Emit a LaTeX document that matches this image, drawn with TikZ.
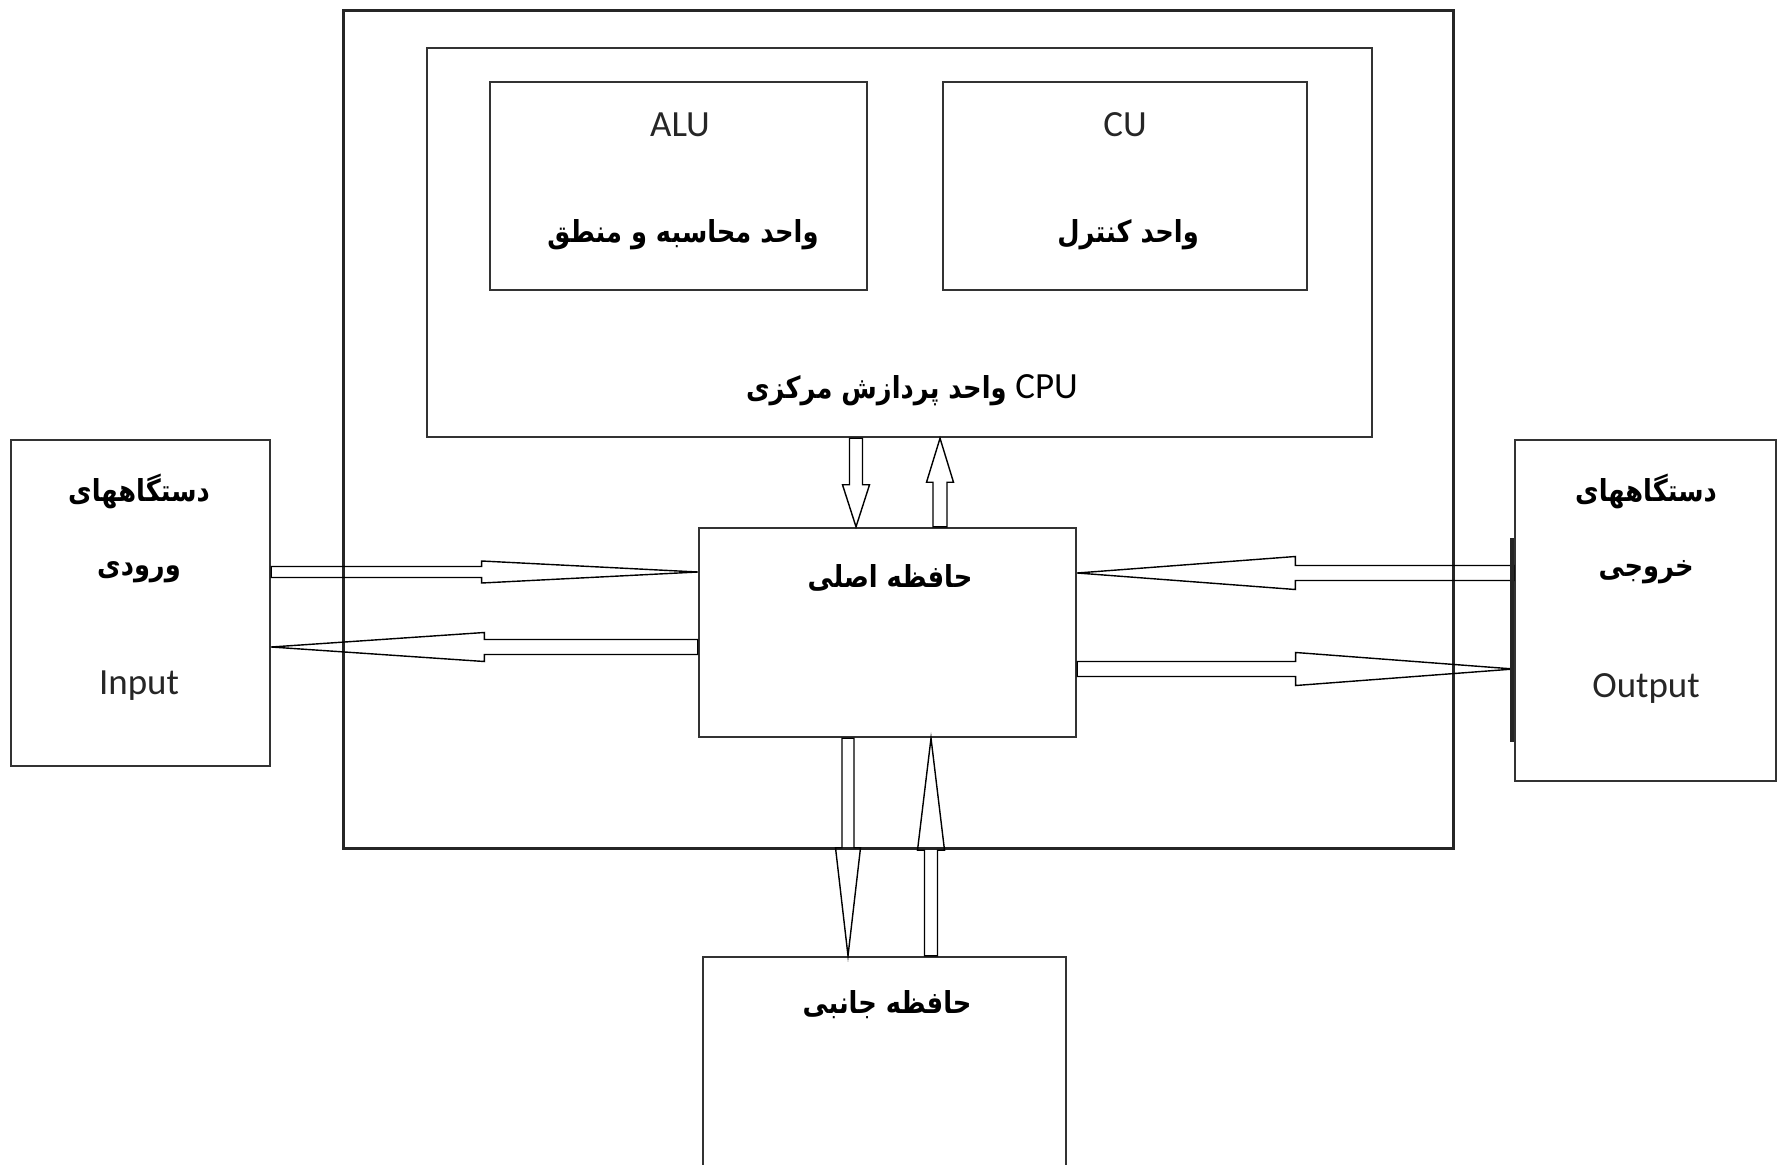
\documentclass[tikz,border=0pt]{standalone}
\usepackage{fontspec}
\setmainfont{Carlito}
\newfontfamily\farsi[Script=Arabic, FakeStretch=0.85]{DejaVu Sans}
\TeXXeTstate=1
\usetikzlibrary{calc, positioning}

\tikzstyle{outerbox} = [
	rectangle,
	draw=black!85,
	line width=0.85pt,
	inner sep=0pt]
\tikzstyle{unitbox} = [
	rectangle,
	draw=black!80,
	line width=0.65pt,
	inner sep=0pt]
\tikzstyle{entext} = [font=\fontsize{10.5}{12}\selectfont, text=black!85]
\tikzstyle{fatext} = [font=\farsi\bfseries\fontsize{8.6}{11}\selectfont]
\tikzset{
	bus/.style n args={3}{
		draw=black!85, line width=0.55pt, line join=round,
		to path={
			let \p1=(\tikztostart), \p2=(\tikztotarget),
			    \p3=($(\p2)!#3!(\p1)$) in
			($(\p1)!#1!90:(\p2)$) -- ($(\p3)!#1!90:(\p2)$) --
			($(\p3)!#2!90:(\p2)$) -- (\p2) --
			($(\p3)!#2!-90:(\p2)$) -- ($(\p3)!#1!-90:(\p2)$) --
			($(\p1)!#1!-90:(\p2)$) -- cycle
		}}
}

\begin{document}
\begin{tikzpicture}[x=0.01cm, y=-0.01cm]
\useasboundingbox (0,0) rectangle (1777,1164);

% --- Nodes ---
\node (sys) [outerbox, minimum width=11.09cm, minimum height=8.37cm] at (898.5,429.5) {};
\node (cpu) [unitbox, minimum width=9.45cm, minimum height=3.89cm] at (899.5,242.5) {};
\node (alu) [unitbox, minimum width=3.77cm, minimum height=2.08cm] at (678.5,186) {};
\node (cu) [unitbox, minimum width=3.64cm, minimum height=2.08cm] at (1125,186) {};
\node (inp) [unitbox, minimum width=2.59cm, minimum height=3.26cm] at (140.5,603) {};
\node (outp) [unitbox, minimum width=2.61cm, minimum height=3.41cm] at (1645.5,610.5) {};
\node (mem) [unitbox, minimum width=3.77cm, minimum height=2.09cm] at (887.5,632.5) {};
\node (sec) [unitbox, minimum width=3.63cm, minimum height=2.13cm] at (884.5,1063.5) {};

% --- Labels ---
\node (alu1) [entext] at (680,125) {ALU};
\node (alu2) [fatext] at (683,235) {\beginR واحد محاسبه و منطق\endR};
\node (cu1) [entext] at (1125,125) {CU};
\node (cu2) [fatext] at (1128,235) {\beginR واحد کنترل\endR};
\node (cpu1) [fatext] at (912,390) {\beginR\beginL{\rmfamily\mdseries\fontsize{10.5}{12}\selectfont CPU}\endL\ واحد پردازش مرکزی\endR};

\node (inp1) [fatext] at (139,491) {\beginR دستگاههای\endR};
\node (inp2) [fatext] at (139,572) {\beginR ورودی\endR};
\node (inp3) [entext] at (139,686) {Input};

\node (outp1) [fatext] at (1646,491) {\beginR دستگاههای\endR};
\node (outp2) [fatext] at (1646,572) {\beginR خروجی\endR};
\node (outp3) [entext] at (1646,688) {Output};

\node (mem1) [fatext] at (890,578) {\beginR حافظه اصلی\endR};
\node (sec1) [fatext] at (887,1005) {\beginR حافظه جانبی\endR};

% --- Arrows ---
\draw (inp.east |- 0,572) to [bus={0.055cm}{0.11cm}{2.16cm}] (mem.west |- 0,572);
\draw (mem.west |- 0,647) to [bus={0.075cm}{0.145cm}{2.13cm}] (inp.east |- 0,647);

\draw (outp.west |- 0,573) to [bus={0.075cm}{0.165cm}{2.18cm}] (mem.east |- 0,573);
\draw (mem.east |- 0,669) to [bus={0.075cm}{0.165cm}{2.18cm}] (outp.west |- 0,669);

\draw (cpu.south -| 856,0) to [bus={0.065cm}{0.135cm}{0.42cm}] (mem.north -| 856,0);
\draw (mem.north -| 940,0) to [bus={0.07cm}{0.135cm}{0.44cm}] (cpu.south -| 940,0);

\draw (mem.south -| 848,0) to [bus={0.06cm}{0.125cm}{1.08cm}] (sec.north -| 848,0);
\draw (sec.north -| 931,0) to [bus={0.065cm}{0.135cm}{1.12cm}] (mem.south -| 931,0);

% bar at the output side
\draw [line width=1.2pt, black!85] (outp.west |- 0,538) ++(-2,0) -- ++(0,204);

\end{tikzpicture}
\end{document}
